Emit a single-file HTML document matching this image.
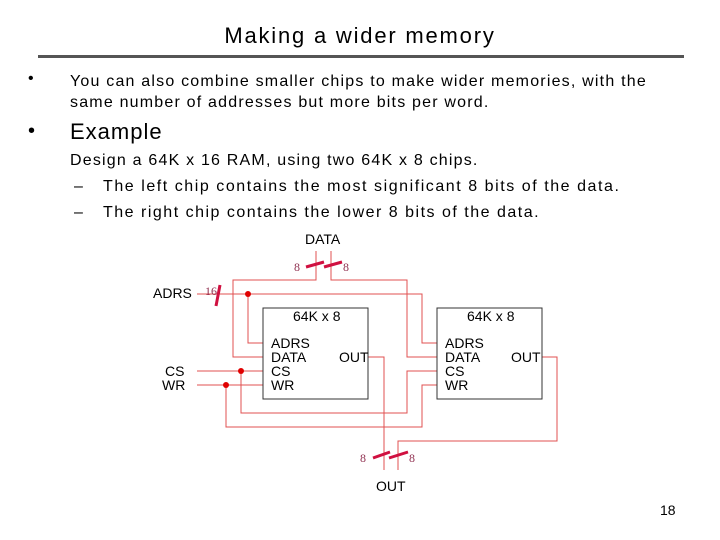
<!DOCTYPE html>
<html><head><style>
body{margin:0;width:720px;height:540px;background:#fff;position:relative;overflow:hidden;font-family:"Liberation Sans",sans-serif;color:#000}
.t{position:absolute;white-space:nowrap}
.b{font-size:16px;letter-spacing:1.2px}
</style></head><body>
<div class="t" style="left:0;width:720px;text-align:center;top:23px;font-size:22px;letter-spacing:1.8px">Making a wider memory</div>
<div style="position:absolute;left:38px;top:55px;width:646px;height:3px;background:#555"></div>
<div class="t" style="left:28px;top:70px;font-size:16px">•</div>
<div class="t b" style="left:70px;top:71px;line-height:21px">You can also combine smaller chips to make wider memories, with the<br>same number of addresses but more bits per word.</div>
<div class="t" style="left:28px;top:120px;font-size:20px">•</div>
<div class="t" style="left:70px;top:119px;font-size:22px;letter-spacing:1px">Example</div>
<div class="t b" style="left:70px;top:152px">Design a 64K x 16 RAM, using two 64K x 8 chips.</div>
<div class="t" style="left:74px;top:178px;font-size:16px">–</div>
<div class="t b" style="left:103px;top:178px;letter-spacing:1.55px">The left chip contains the most significant 8 bits of the data.</div>
<div class="t" style="left:74px;top:204px;font-size:16px">–</div>
<div class="t b" style="left:103px;top:204px;letter-spacing:1.5px">The right chip contains the lower 8 bits of the data.</div>
<svg width="720" height="540" style="position:absolute;left:0;top:0" font-family="Liberation Sans,sans-serif">
<g fill="none" stroke="#e05050" stroke-width="1">
<polyline points="316,251 316,280 233,280 233,357 263,357"/>
<polyline points="331,251 331,280 407,280 407,357 437,357"/>
<polyline points="197,294 422,294 422,343 437,343"/>
<polyline points="248,294 248,343 263,343"/>
<polyline points="197,371 263,371"/>
<polyline points="241,371 241,413 407,413 407,371 437,371"/>
<polyline points="197,385 263,385"/>
<polyline points="226,385 226,427 422,427 422,385 437,385"/>
<polyline points="368,357 384,357 384,470"/>
<polyline points="542,357 557,357 557,441 398,441 398,470"/>
</g>
<g fill="#e00000"><circle cx="248" cy="294" r="3"/><circle cx="241" cy="371" r="3"/><circle cx="226" cy="385" r="3"/></g>
<g stroke="#d01040" stroke-width="3">
<line x1="306" y1="267" x2="324" y2="262"/><line x1="324" y1="267" x2="342" y2="262"/>
<line x1="220" y1="285" x2="216" y2="306"/>
<line x1="373" y1="458" x2="390" y2="452"/><line x1="389" y1="458" x2="408" y2="452"/>
</g>
<g fill="#fff" stroke="#333" stroke-width="1"><rect x="263" y="308" width="105" height="91"/><rect x="437" y="308" width="105" height="91"/></g>
<g font-size="14" fill="#000">
<text x="293" y="321">64K x 8</text><text x="467" y="321">64K x 8</text>
<text x="271" y="348">ADRS</text><text x="271" y="362">DATA</text><text x="271" y="376">CS</text><text x="271" y="390">WR</text><text x="339" y="362">OUT</text>
<text x="445" y="348">ADRS</text><text x="445" y="362">DATA</text><text x="445" y="376">CS</text><text x="445" y="390">WR</text><text x="511" y="362">OUT</text>
<text x="305" y="244">DATA</text><text x="376" y="491">OUT</text>
<text x="153" y="298">ADRS</text><text x="165" y="376">CS</text><text x="162" y="390">WR</text>
</g>
<g font-size="12" fill="#903050" font-family="Liberation Serif,serif">
<text x="294" y="271">8</text><text x="343" y="271">8</text><text x="205" y="295">16</text>
<text x="360" y="462">8</text><text x="409" y="462">8</text>
</g>
<text x="660" y="515" font-size="14">18</text>
</svg>
</body></html>
